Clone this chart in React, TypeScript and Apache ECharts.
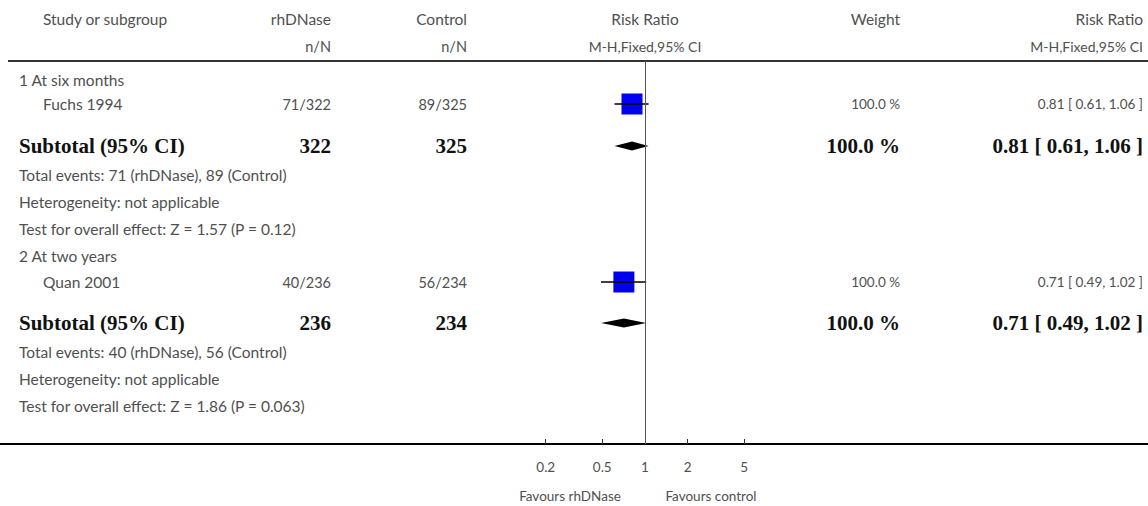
import React, { useEffect, useRef } from "react";
import * as echarts from "echarts";

// ---- data ----
const subgroups = ["1 At six months", "2 At two years"];
const studies = ["Fuchs 1994", "Quan 2001"];
const eventsT = [71, 40];
const totalT = [322, 236];
const eventsC = [89, 56];
const totalC = [325, 234];
const rr = [0.81, 0.71];
const rrLow = [0.61, 0.49];
const rrHigh = [1.06, 1.02];
const weights = [100, 100];
const subRR = [0.81, 0.71];
const subLow = [0.61, 0.49];
const subHigh = [1.06, 1.02];
const zValues = ["1.57", "1.86"];
const pValues = ["0.12", "0.063"];
const tickValues = [0.2, 0.5, 1, 2, 5];
const tickLabels = ["0.2", "0.5", "1", "2", "5"];

// ---- layout ----
const W = 1148;
const H = 506;
const X_ONE = 645;
const PX_PER_DEC = 142;
const TOP_LINE = 61;
const BOTTOM_LINE = 444;
const GROUP_ROWS = [
  { title: 80, study: 104, subtotal: 146, events: 175, het: 202, test: 229 },
  { title: 256, study: 282, subtotal: 323, events: 352, het: 379, test: 406 },
];
const COL_NAME_IN = 43;
const COL_LEFT = 19;
const COL_T = 331;
const COL_C = 467;
const COL_W = 900;
const COL_RR = 1143;

const FONT = "Lato, 'Open Sans', sans-serif";
const BOLD_FONT = "'Liberation Serif', 'DejaVu Serif', serif";
const TXT = "#505050";
const WORD = 15.5;
const NUM = 14.5;

const fmtCI = (a: number, b: number, c: number) =>
  `${a.toFixed(2)} [ ${b.toFixed(2)}, ${c.toFixed(2)} ]`;

function txt(text: string, x: number, y: number, align = "left", opts: any = {}) {
  return {
    type: "text",
    x,
    y,
    silent: true,
    style: {
      text,
      fill: opts.fill || TXT,
      fontSize: opts.size || WORD,
      fontFamily: opts.family || FONT,
      fontWeight: opts.weight || "normal",
      textAlign: align,
      textVerticalAlign: "middle",
    },
  };
}

export default function App() {
  const ref = useRef<HTMLDivElement>(null);
  useEffect(() => {
    if (!ref.current) return;
    const chart = echarts.init(ref.current, null, { renderer: "svg" });
    const bold = { size: 21, family: BOLD_FONT, weight: "bold", fill: "#111" };
    const num = { size: NUM };

    const graphics: any[] = [
      txt("Study or subgroup", COL_NAME_IN, 19),
      txt("rhDNase", COL_T, 19, "right"),
      txt("Control", COL_C, 19, "right"),
      txt("Risk Ratio", X_ONE, 19, "center"),
      txt("Weight", COL_W, 19, "right"),
      txt("Risk Ratio", COL_RR, 19, "right"),
      txt("n/N", COL_T, 46, "right", num),
      txt("n/N", COL_C, 46, "right", num),
      txt("M-H,Fixed,95% CI", X_ONE, 46, "center", { size: 14 }),
      txt("M-H,Fixed,95% CI", COL_RR, 46, "right", { size: 14 }),
      {
        type: "line",
        silent: true,
        shape: { x1: 8, y1: TOP_LINE, x2: W, y2: TOP_LINE },
        style: { stroke: "#333", lineWidth: 2 },
      },
      txt("Favours rhDNase", 570, 496, "center", { size: 13.5 }),
      txt("Favours control", 711, 496, "center", { size: 13.5 }),
    ];

    subgroups.forEach((g, i) => {
      const r = GROUP_ROWS[i];
      graphics.push(
        txt(g, COL_LEFT, r.title),
        txt(studies[i], COL_NAME_IN, r.study),
        txt(`${eventsT[i]}/${totalT[i]}`, COL_T, r.study, "right", num),
        txt(`${eventsC[i]}/${totalC[i]}`, COL_C, r.study, "right", num),
        txt(`${weights[i].toFixed(1)} %`, COL_W, r.study, "right", { size: 13.5 }),
        txt(fmtCI(rr[i], rrLow[i], rrHigh[i]), COL_RR, r.study, "right", { size: 13.5 }),
        txt("Subtotal (95% CI)", COL_LEFT, r.subtotal, "left", bold),
        txt(String(totalT[i]), COL_T, r.subtotal, "right", bold),
        txt(String(totalC[i]), COL_C, r.subtotal, "right", bold),
        txt(`${weights[i].toFixed(1)} %`, COL_W, r.subtotal, "right", bold),
        txt(fmtCI(subRR[i], subLow[i], subHigh[i]), COL_RR, r.subtotal, "right", bold),
        txt(`Total events: ${eventsT[i]} (rhDNase), ${eventsC[i]} (Control)`, COL_LEFT, r.events),
        txt("Heterogeneity: not applicable", COL_LEFT, r.het),
        txt(`Test for overall effect: Z = ${zValues[i]} (P = ${pValues[i]})`, COL_LEFT, r.test)
      );
    });

    const studyData = studies.map((_, i) => [
      Math.log10(rr[i]),
      Math.log10(rrLow[i]),
      Math.log10(rrHigh[i]),
      GROUP_ROWS[i].study,
      weights[i],
    ]);
    const subData = subgroups.map((_, i) => [
      Math.log10(subRR[i]),
      Math.log10(subLow[i]),
      Math.log10(subHigh[i]),
      GROUP_ROWS[i].subtotal,
    ]);
    const tickLogs = tickValues.map((v) => Math.log10(v));

    chart.setOption({
      animation: false,
      grid: { left: 0, right: 0, top: TOP_LINE, bottom: H - BOTTOM_LINE },
      xAxis: {
        type: "value",
        min: -X_ONE / PX_PER_DEC,
        max: (W - X_ONE) / PX_PER_DEC,
        axisLine: { show: true, onZero: false, lineStyle: { color: "#000", width: 2 } },
        axisTick: {
          show: true,
          inside: true,
          length: 5,
          customValues: tickLogs,
          lineStyle: { color: "#333", width: 1 },
        },
        axisLabel: {
          customValues: tickLogs,
          margin: 16,
          color: TXT,
          fontSize: 13.5,
          fontFamily: FONT,
          formatter: (v: number) => {
            const k = tickLogs.findIndex((t) => Math.abs(t - v) < 1e-6);
            return k >= 0 ? tickLabels[k] : "";
          },
        },
        splitLine: { show: false },
      },
      yAxis: {
        type: "value",
        min: TOP_LINE,
        max: BOTTOM_LINE,
        inverse: true,
        show: false,
      },
      graphic: graphics,
      series: [
        {
          type: "custom",
          data: studyData,
          encode: { x: [0, 1, 2], y: 3 },
          renderItem: (params: any, api: any) => {
            const y = api.value(3);
            const c = api.coord([api.value(0), y]);
            const l = api.coord([api.value(1), y]);
            const h = api.coord([api.value(2), y]);
            const s = Math.sqrt(api.value(4)) * 2.1;
            return {
              type: "group",
              children: [
                {
                  type: "rect",
                  shape: { x: c[0] - s / 2, y: c[1] - s / 2, width: s, height: s },
                  style: { fill: "#0000ee" },
                },
                {
                  type: "line",
                  shape: { x1: l[0], y1: c[1], x2: h[0], y2: c[1] },
                  style: { stroke: "#000", lineWidth: 1.3 },
                },
              ],
            };
          },
          markLine: {
            silent: true,
            symbol: "none",
            label: { show: false },
            lineStyle: { color: "#555", width: 1, type: "solid" },
            data: [{ xAxis: 0 }],
          },
        },
        {
          type: "custom",
          data: subData,
          encode: { x: [0, 1, 2], y: 3 },
          renderItem: (params: any, api: any) => {
            const y = api.value(3);
            const c = api.coord([api.value(0), y]);
            const l = api.coord([api.value(1), y]);
            const h = api.coord([api.value(2), y]);
            return {
              type: "polygon",
              shape: {
                points: [
                  [l[0], c[1]],
                  [c[0], c[1] - 4.5],
                  [h[0], c[1]],
                  [c[0], c[1] + 4.5],
                ],
              },
              style: { fill: "#000" },
            };
          },
        },
      ],
    });
    return () => chart.dispose();
  }, []);
  return (
    <div
      ref={ref}
      style={{ position: "absolute", left: 0, top: 0, width: W, height: H, background: "#fff" }}
    />
  );
}
